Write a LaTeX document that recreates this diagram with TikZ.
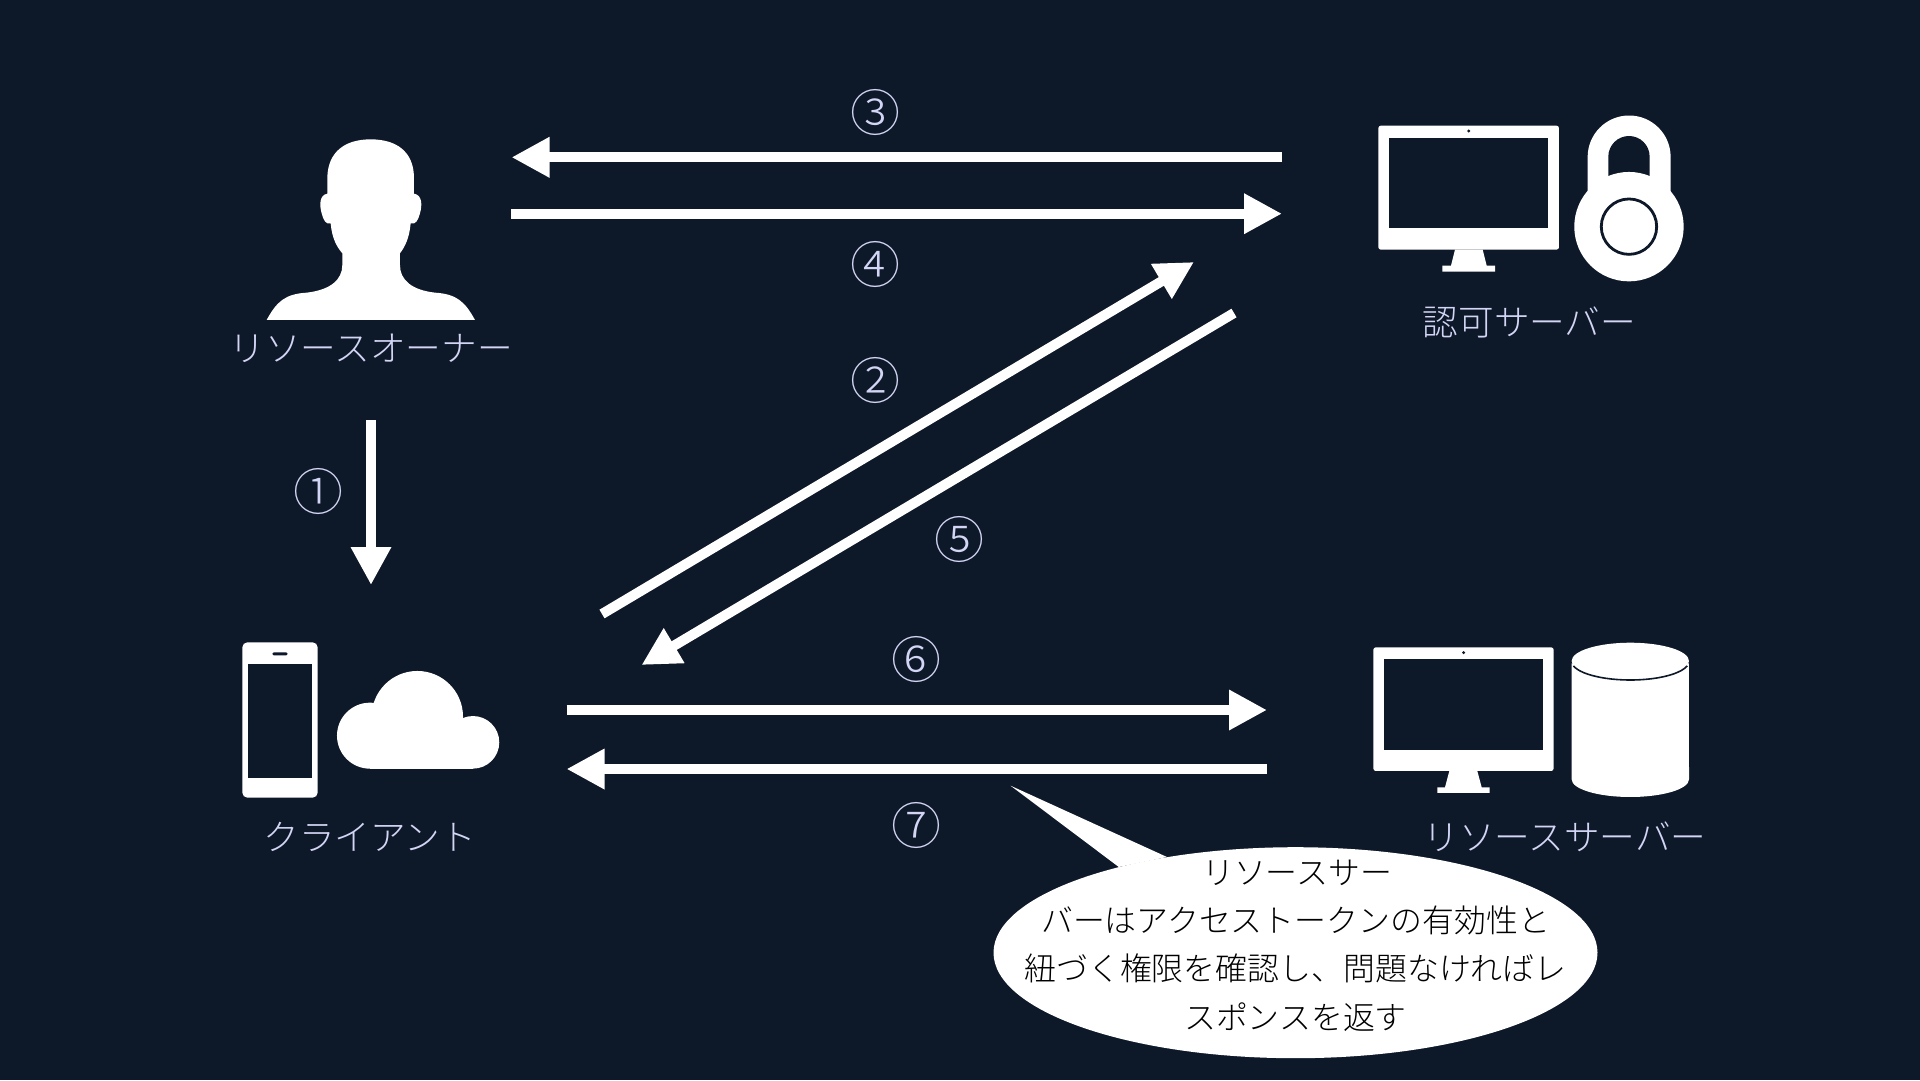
\documentclass[tikz,border=0pt]{standalone}
\usepackage{fontspec}
\usetikzlibrary{arrows.meta}
\newfontfamily\jpfont{Noto Sans CJK JP}[FontFace={l}{n}{Noto Sans CJK JP Light}]
\definecolor{bgnavy}{HTML}{0D1829}
\definecolor{lav}{HTML}{D2D5F4}
\tikzset{
  flow/.style={line width=10pt,white,-{Triangle[length=38pt,width=38pt]}},
  lbl/.style={anchor=base,inner sep=0pt,text=lav,font=\jpfont\fontseries{l}\fontsize{35.6}{35.6}\selectfont},
  num/.style={anchor=base,inner sep=0pt,text=lav,font=\jpfont\fontseries{l}\fontsize{50}{50}\selectfont},
  bub/.style={anchor=base,inner sep=0pt,text=black,font=\jpfont\fontseries{l}\fontsize{31.9}{31.9}\selectfont},
}
\begin{document}
\begin{tikzpicture}[x=1pt,y=-1pt]
\path[use as bounding box,fill=bgnavy] (0,0) rectangle (1920,1080);

% person
\begin{scope}[shift={(220,110)},x=0.3333pt,y=-0.3333pt]
\fill[white] (140,630) .. controls (170,575) and (195,552) .. (260,548)
  .. controls (330,540) and (367,510) .. (367,465) -- (367,430)
  .. controls (350,410) and (336,385) .. (332,340)
  .. controls (318,345) and (310,330) .. (305,310)
  .. controls (298,285) and (298,255) .. (322,251)
  -- (322,200) .. controls (325,125) and (375,88) .. (452,88)
  .. controls (530,88) and (580,125) .. (582,200)
  -- (582,251) .. controls (607,255) and (607,285) .. (600,310)
  .. controls (595,330) and (587,345) .. (572,340)
  .. controls (568,385) and (555,410) .. (540,430) -- (540,465)
  .. controls (540,510) and (575,540) .. (645,548)
  .. controls (710,552) and (735,575) .. (765,630) -- cycle;
\end{scope}

% authorization server: monitor and lock
\begin{scope}[shift={(1360,100)},x=0.3333pt,y=-0.3333pt]
\fill[white,rounded corners=2.5pt] (55,77) rectangle (597,449);
\fill[bgnavy] (87,113) rectangle (565,385);
\fill[bgnavy] (326,93) circle[radius=1.6pt];
\fill[white] (285,449) -- (368,449) -- (380,497) -- (405,497) -- (405,515) -- (247,515) -- (247,497) -- (273,497) -- cycle;
\fill[white] (683,300) -- (683,171) arc[start angle=180,end angle=0,x radius=41.5pt,y radius=41.5pt] -- (932,300) -- cycle;
\fill[bgnavy] (745,260) -- (745,170) arc[start angle=180,end angle=0,x radius=20.67pt,y radius=20.67pt] -- (869,260) -- cycle;
\fill[white] (807,380) circle[radius=54.7pt];
\draw[bgnavy,line width=2.8pt] (807,380) circle[radius=27.7pt];
\end{scope}

% client: phone and cloud
\begin{scope}[shift={(220,620)},x=0.3333pt,y=-0.3333pt]
\fill[white,rounded corners=5pt] (67,67) rectangle (293,533);
\fill[bgnavy] (83,131) rectangle (277,475);
\fill[bgnavy,rounded corners=1.5pt] (157,97) rectangle (203,106);
\fill[white] (450,347) circle[radius=33pt];
\fill[white] (592,290) circle[radius=45.7pt];
\fill[white] (759,367) circle[radius=26.3pt];
\fill[white] (450,347) rectangle (759,446);
\end{scope}

% resource server: monitor and cylinder
\begin{scope}[shift={(1350,620)},x=0.3333pt,y=-0.3333pt]
\fill[white,rounded corners=2.5pt] (70,82) rectangle (611,453);
\fill[bgnavy] (102,118) rectangle (580,389);
\fill[bgnavy] (341,98) circle[radius=1.6pt];
\fill[white] (298,453) -- (382,453) -- (395,502) -- (419,502) -- (419,519) -- (262,519) -- (262,502) -- (285,502) -- cycle;
\fill[white] (665,130) -- (665,478) arc[start angle=180,end angle=360,x radius=58.67pt,y radius=17.67pt] -- (1017,130) -- cycle;
\fill[white] (841,123) ellipse[x radius=58.67pt,y radius=18.3pt];
\draw[bgnavy,line width=1.6pt] (841,123) ++(195:58.9pt and 19pt) arc[start angle=195,end angle=345,x radius=58.9pt,y radius=19pt];
\end{scope}

% speech bubble
\fill[white] (1295.5,952.7) ellipse[x radius=302pt,y radius=105.5pt];
\fill[white] (1010.6,785.7) -- (1167,857) -- (1118.8,867) -- cycle;

% connector ends
\coordinate (a3s) at (1282,157.3); \coordinate (a3e) at (511.5,157.3);
\coordinate (a4s) at (511,213.7);  \coordinate (a4e) at (1282,213.7);
\coordinate (a1s) at (371,420);    \coordinate (a1e) at (371,585);
\coordinate (a2s) at (602,614);    \coordinate (a2e) at (1194,262);
\coordinate (a5s) at (1234,313);   \coordinate (a5e) at (641.5,665);
\coordinate (a6s) at (566.5,710);  \coordinate (a6e) at (1267,710);
\coordinate (a7s) at (1267,769);   \coordinate (a7e) at (566.5,769);
\draw[flow] (a1s) -- (a1e);
\draw[flow] (a2s) -- (a2e);
\draw[flow] (a3s) -- (a3e);
\draw[flow] (a4s) -- (a4e);
\draw[flow] (a5s) -- (a5e);
\draw[flow] (a6s) -- (a6e);
\draw[flow] (a7s) -- (a7e);

% labels
\node[lbl] (lowner) at (371.2,361) {リソースオーナー};
\node[lbl] (lauth) at (1529.5,335) {認可サーバー};
\node[lbl] (lclient) at (369.5,850) {クライアント};
\node[lbl] (lres) at (1565,850) {リソースサーバー};

\node[num] (n1) at (318.5,510) {①};
\node[num] (n2) at (875,399) {②};
\node[num] (n3) at (875,131) {③};
\node[num] (n4) at (875,283) {④};
\node[num] (n5) at (959.5,558) {⑤};
\node[num] (n6) at (916.5,678) {⑥};
\node[num] (n7) at (916.5,844) {⑦};

\node[bub] (b1) at (1297,884) {リソースサー};
\node[bub] (b2) at (1295.5,932) {バーはアクセストークンの有効性と};
\node[bub] (b3) at (1295.5,980) {紐づく権限を確認し、問題なければレ};
\node[bub] (b4) at (1295.5,1029) {スポンスを返す};
\end{tikzpicture}
\end{document}
